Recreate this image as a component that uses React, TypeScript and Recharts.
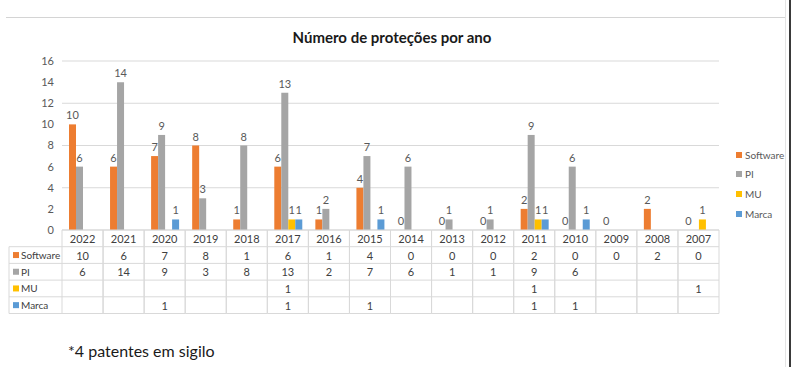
import React from "react";
import {
  BarChart,
  Bar,
  XAxis,
  YAxis,
  CartesianGrid,
  LabelList,
} from "recharts";

const years = ["2022", "2021", "2020", "2019", "2018", "2017", "2016", "2015", "2014", "2013", "2012", "2011", "2010", "2009", "2008", "2007"];
const software = [10, 6, 7, 8, 1, 6, 1, 4, 0, 0, 0, 2, 0, 0, 2, 0];
const pi = [6, 14, 9, 3, 8, 13, 2, 7, 6, 1, 1, 9, 6, null, null, null];
const mu = [null, null, null, null, null, 1, null, null, null, null, null, 1, null, null, null, 1];
const marca = [null, null, 1, null, null, 1, null, 1, null, null, null, 1, 1, null, null, null];
const yTicks = [0, 2, 4, 6, 8, 10, 12, 14, 16];

const series = [
  { key: "Software", values: software, color: "#ED7D31" },
  { key: "PI", values: pi, color: "#A5A5A5" },
  { key: "MU", values: mu, color: "#FFC000" },
  { key: "Marca", values: marca, color: "#5B9BD5" },
];

const data = years.map((year, i) => {
  const row: Record<string, any> = { year };
  series.forEach((s) => (row[s.key] = s.values[i]));
  return row;
});

const W = 795;
const H = 367;
const ROW_H = 16.7;
const M = { top: 61, right: 76, left: 0, bottom: 367 - 230 - Math.round(ROW_H * 5) };
const Y_W = 62;
const COL_W = (W - M.left - M.right - Y_W) / years.length;
const FONT = "Lato, 'Open Sans', sans-serif";
const LINE = "#D9D9D9";
const TXT = "#404040";

// draws one column of the data table under each category
const TableTick = (props: any) => {
  const { x, y, payload } = props;
  const idx = years.indexOf(String(payload.value));
  const l = x - COL_W / 2;
  const r = x + COL_W / 2;
  const bottom = y + ROW_H * 5;
  const tableLeft = 9;
  return (
    <g>
      <line x1={l} y1={y} x2={l} y2={bottom} stroke={LINE} />
      <line x1={r} y1={y} x2={r} y2={bottom} stroke={LINE} />
      {[0, 1, 2, 3, 4, 5].map((k) => (
        <line key={k} x1={l} x2={r} y1={y + k * ROW_H} y2={y + k * ROW_H} stroke={LINE} />
      ))}
      <text x={x} y={y + ROW_H / 2} textAnchor="middle" dominantBaseline="central" fontSize={11} fill={TXT} fontFamily={FONT}>
        {payload.value}
      </text>
      {series.map((s, k) => {
        const v = s.values[idx];
        return v === null ? null : (
          <text key={s.key} x={x} y={y + ROW_H * (k + 1.5)} textAnchor="middle" dominantBaseline="central" fontSize={11} fill={TXT} fontFamily={FONT}>
            {v}
          </text>
        );
      })}
      {idx === 0 && (
        <g>
          <line x1={tableLeft} y1={y + ROW_H} x2={tableLeft} y2={bottom} stroke={LINE} />
          {[1, 2, 3, 4, 5].map((k) => (
            <line key={k} x1={tableLeft} x2={l} y1={y + k * ROW_H} y2={y + k * ROW_H} stroke={LINE} />
          ))}
          {series.map((s, k) => (
            <g key={s.key}>
              <rect x={tableLeft + 4} y={y + ROW_H * (k + 1.5) - 3} width={6} height={6} fill={s.color} />
              <text x={tableLeft + 12} y={y + ROW_H * (k + 1.5)} dominantBaseline="central" fontSize={10} fill={TXT} fontFamily={FONT}>
                {s.key}
              </text>
            </g>
          ))}
        </g>
      )}
    </g>
  );
};

const LegendBox = () => (
  <div style={{ position: "absolute", left: 736, top: 145, fontFamily: FONT, fontSize: 10, color: "#595959" }}>
    {series.map((s) => (
      <div key={s.key} style={{ display: "flex", alignItems: "center", height: 19.6 }}>
        <span style={{ width: 6, height: 6, background: s.color, marginRight: 3 }} />
        {s.key}
      </div>
    ))}
  </div>
);

export default function App() {
  return (
    <div style={{ position: "absolute", left: 0, top: 0, width: W, height: H, background: "#fff", overflow: "hidden" }}>
      <div style={{ position: "absolute", left: 6, top: 17, width: 779, height: 1, background: "#D4D4D4" }} />
      <div style={{ position: "absolute", left: 785, top: 0, width: 1, height: H, background: "#E4E4E4" }} />
      <div style={{ position: "absolute", left: 789, top: 0, width: 2, height: H, background: "#3A3A3A" }} />
      <div style={{ position: "absolute", left: 0, top: 28, width: 784, textAlign: "center", fontFamily: FONT, fontWeight: 700, fontSize: 15, color: "#1a1a1a" }}>
        Número de proteções por ano
      </div>
      <div style={{ position: "absolute", left: 0, top: 0 }}>
        <BarChart width={W} height={H} data={data} margin={M} barCategoryGap="17%" barGap={0}>
          <CartesianGrid vertical={false} stroke={LINE} />
          <XAxis
            dataKey="year"
            height={Math.round(ROW_H * 5)}
            axisLine={false}
            tickLine={false}
            tickSize={0}
            tickMargin={0}
            interval={0}
            tick={<TableTick />}
          />
          <YAxis
            width={Y_W}
            domain={[0, 16]}
            ticks={yTicks}
            axisLine={false}
            tickLine={false}
            tick={{ fontSize: 11, fill: "#595959", fontFamily: FONT }}
          />
          {series.map((s) => (
            <Bar key={s.key} dataKey={s.key} fill={s.color} minPointSize={0.01} isAnimationActive={false}>
              <LabelList dataKey={s.key} position="top" offset={5} fontSize={11} fill="#595959" fontFamily={FONT} />
            </Bar>
          ))}
        </BarChart>
      </div>
      <LegendBox />
      <div style={{ position: "absolute", left: 68, top: 341, fontFamily: FONT, fontSize: 16, color: "#1a1a1a" }}>
        *4 patentes em sigilo
      </div>
    </div>
  );
}
